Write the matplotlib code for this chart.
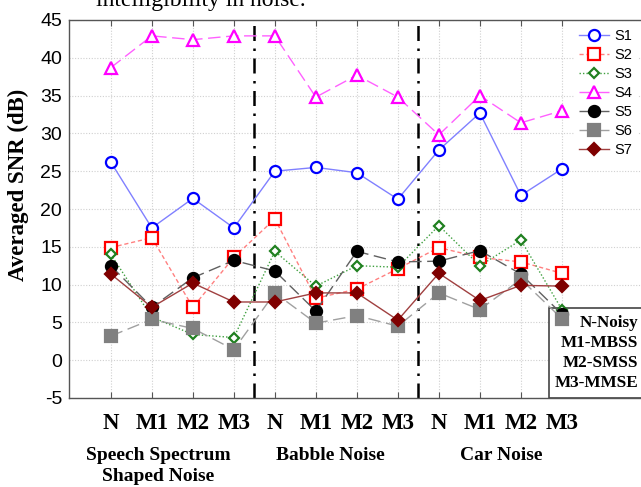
import matplotlib
matplotlib.use("Agg")
import matplotlib.pyplot as plt
from matplotlib.patches import Rectangle

plt.rcParams["axes.unicode_minus"] = False

# x categories: 4 conditions repeated in three noise types
conditions = ["N", "M1", "M2", "M3"]
noise_types = ["Speech Spectrum\nShaped Noise", "Babble Noise", "Car Noise"]
legend_notes = ["N-Noisy", "M1-MBSS", "M2-SMSS", "M3-MMSE"]
series_names = ["S1", "S2", "S3", "S4", "S5", "S6", "S7"]

# averaged SNR (dB), per series: SSN N..M3, Babble N..M3, Car N..M3
s1 = [26.2, 17.5, 21.4, 17.5, 25.0, 25.5, 24.8, 21.3, 27.8, 32.7, 21.8, 25.3]
s2 = [14.9, 16.2, 7.0, 13.6, 18.7, 8.2, 9.4, 12.1, 14.9, 13.6, 13.0, 11.5]
s3 = [14.0, 5.7, 3.4, 3.0, 14.4, 9.8, 12.5, 12.3, 17.8, 12.5, 15.9, 6.7]
s4 = [38.7, 42.9, 42.4, 42.9, 42.9, 34.8, 37.7, 34.8, 29.8, 35.0, 31.4, 33.0]
s5 = [12.5, 7.0, 10.9, 13.2, 11.8, 6.5, 14.4, 13.0, 13.1, 14.5, 11.4, 6.1]
s6 = [3.2, 5.4, 4.2, 1.4, 8.9, 4.9, 5.9, 4.5, 8.9, 6.7, 10.7, 5.5]
s7 = [11.4, 7.0, 10.2, 7.7, 7.7, 8.9, 8.9, 5.3, 11.5, 7.9, 9.9, 9.8]

SERIF = "Liberation Serif"
SANS = "Liberation Sans"

# (values, line colour, marker, marker edge, marker face, linestyle)
styles = [
    (s1, "#8080ff", "o", "#0000ff", "white", "-"),
    (s2, "#ff8080", "s", "#ff0000", "white", (0, (3, 2))),
    (s3, "#40a040", "D", "#208020", "white", (0, (1, 1.5))),
    (s4, "#ff60ff", "^", "#ff00ff", "white", (0, (9, 4))),
    (s5, "#606060", "o", "black", "black", (0, (9, 4))),
    (s6, "#a0a0a0", "s", "#808080", "#808080", (0, (9, 4))),
    (s7, "#a04040", "D", "#7f0000", "#7f0000", "-"),
]
msizes = [8, 8, 5.5, 8, 8, 8, 6.5]

fig = plt.figure(figsize=(6.41, 4.87), dpi=100)
ax = fig.add_axes([69 / 641, 89 / 487, 572 / 641, 378 / 487])

x = list(range(len(conditions) * len(noise_types)))
for name, (vals, lc, mk, mec, mfc, ls), ms in zip(series_names, styles, msizes):
    ax.plot(x, vals, color=lc, linestyle=ls, linewidth=1.0, marker=mk,
            markersize=ms, markeredgecolor=mec, markerfacecolor=mfc,
            markeredgewidth=1.6, label=name, zorder=3)

# group separators
for i in range(1, len(noise_types)):
    ax.axvline(i * len(conditions) - 0.5, color="black", linewidth=1.8,
               linestyle=(0, (6, 3, 1, 3)), zorder=2)

ax.set_xlim(-1.02, 12.93)
ax.set_ylim(-5, 45)
ax.set_yticks(range(-5, 50, 5))
ax.set_xticks(x)
ax.set_xticklabels(conditions * len(noise_types), fontfamily=SERIF,
                   fontweight="bold", fontsize=16.5)
for lab in ax.get_yticklabels():
    lab.set_fontfamily(SANS)
    lab.set_fontsize(14)
ax.tick_params(axis="x", direction="in", length=4, pad=11, top=True,
               colors="#555555", labelcolor="black")
ax.tick_params(axis="y", direction="in", length=0, pad=5, labelcolor="black")
ax.grid(True, color="#d0d0d0", linestyle=(0, (1, 1.5)), linewidth=0.8)
ax.set_axisbelow(True)
for side in ["left", "bottom", "top"]:
    ax.spines[side].set_color("#555555")
    ax.spines[side].set_linewidth(1.0)
ax.spines["right"].set_visible(False)

ax.set_ylabel("Averaged SNR (dB)", fontfamily=SERIF, fontweight="bold",
              fontsize=16.5)
ax.yaxis.set_label_coords(-0.070, 0.563)

# noise type labels under the condition ticks (small horizontal nudges in pt)
label_nudge = [-10, -4, 1]
for i, name in enumerate(noise_types):
    cx = i * len(conditions) + (len(conditions) - 1) / 2
    ax.annotate(name, xy=(cx, 0), xycoords=("data", "axes fraction"),
                xytext=(label_nudge[i], -35), textcoords="offset points",
                ha="center", va="top", fontfamily=SERIF, fontweight="bold",
                fontsize=14, linespacing=1.3)

leg = ax.legend(loc="upper right", bbox_to_anchor=(1.0, 1.0), frameon=True,
                prop={"family": SANS, "size": 10.5}, handlelength=2.0,
                labelspacing=0.35, borderaxespad=0.2, handletextpad=0.4)
leg.get_frame().set_edgecolor("none")
leg.get_frame().set_facecolor("white")
leg.get_frame().set_alpha(1)

# abbreviations box in the lower right corner
ax.add_patch(Rectangle((0.839, 0.0), 0.3, 0.238, transform=ax.transAxes,
                       facecolor="white", edgecolor="#444444", linewidth=1.2,
                       clip_on=False, zorder=2))
for k, note in enumerate(legend_notes):
    ax.text(0.995, 0.198 - k * 0.053, note, transform=ax.transAxes,
            ha="right", va="center", fontfamily=SERIF, fontweight="bold",
            fontsize=12.3, zorder=2.5)

# fragment of the surrounding page text at the very top
fig.text(96 / 641, 1 - 6 / 487, "intelligibility in noise.",
         fontfamily=SERIF, fontsize=17, va="baseline", ha="left")

fig.savefig("out.png", dpi=100)
